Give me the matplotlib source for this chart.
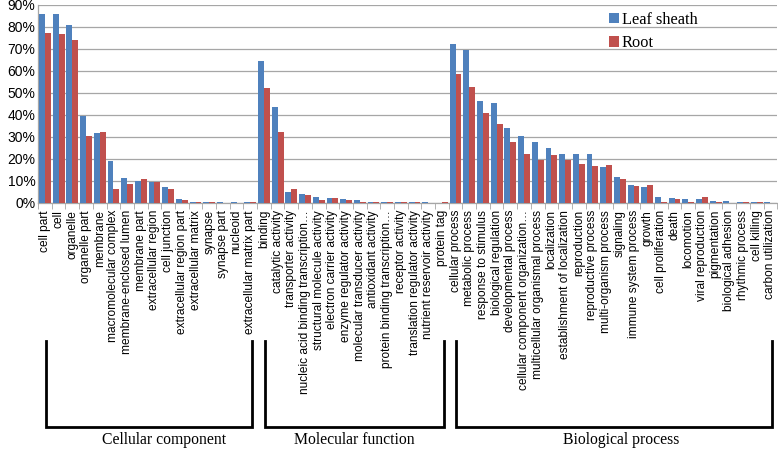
import matplotlib
matplotlib.use('Agg')
import matplotlib.pyplot as plt
import matplotlib.transforms as mtransforms
import numpy as np

# GO categories, grouped
cc_terms = ['cell part', 'cell', 'organelle', 'organelle part', 'membrane',
            'macromolecular complex', 'membrane-enclosed lumen', 'membrane part',
            'extracellular region', 'cell junction', 'extracellular region part',
            'extracellular matrix', 'synapse', 'synapse part', 'nucleoid',
            'extracellular matrix part']
mf_terms = ['binding', 'catalytic activity', 'transporter activity',
            'nucleic acid binding transcription…', 'structural molecule activity',
            'electron carrier activity', 'enzyme regulator activity',
            'molecular transducer activity', 'antioxidant activity',
            'protein binding transcription…', 'receptor activity',
            'translation regulator activity', 'nutrient reservoir activity',
            'protein tag']
bp_terms = ['cellular process', 'metabolic process', 'response to stimulus',
            'biological regulation', 'developmental process',
            'cellular component organization…', 'multicellular organismal process',
            'localization', 'establishment of localization', 'reproduction',
            'reproductive process', 'multi-organism process', 'signaling',
            'immune system process', 'growth', 'cell proliferation', 'death',
            'locomotion', 'viral reproduction', 'pigmentation',
            'biological adhesion', 'rhythmic process', 'cell killing',
            'carbon utilization']

# percentages
cc_leaf = [85.8, 85.8, 81.1, 39.7, 31.7, 18.9, 11.5, 10.2, 9.5, 7.4, 1.7,
           0.5, 0.5, 0.5, 0.4, 0.5]
cc_root = [77.4, 76.7, 73.9, 30.5, 32.1, 6.4, 8.6, 10.8, 9.5, 6.4, 1.2,
           0.5, 0.5, 0.1, 0.1, 0.5]
mf_leaf = [64.7, 43.8, 5.0, 4.2, 2.9, 2.3, 2.0, 1.2, 0.6, 0.6, 0.3, 0.3, 0.3, 0.0]
mf_root = [52.1, 32.1, 6.4, 3.6, 1.5, 2.3, 1.2, 0.5, 0.6, 0.3, 0.3, 0.3, 0.0, 0.3]
bp_leaf = [72.3, 69.7, 46.5, 45.5, 34.1, 30.6, 27.9, 24.8, 22.1, 22.1, 22.1,
           16.2, 12.0, 8.0, 7.4, 2.9, 2.3, 2.0, 1.7, 0.9, 0.9, 0.6, 0.5, 0.5]
bp_root = [58.5, 52.7, 41.1, 35.8, 27.6, 22.1, 19.7, 21.8, 19.7, 17.7, 17.0,
           17.4, 10.8, 7.7, 8.2, 0.3, 1.7, 0.5, 2.6, 0.5, 0.0, 0.5, 0.5, 0.0]

groups = ['Cellular component', 'Molecular function', 'Biological process']

terms = cc_terms + mf_terms + bp_terms
leaf = cc_leaf + mf_leaf + bp_leaf
root = cc_root + mf_root + bp_root
x = np.arange(len(terms))

fig = plt.figure(figsize=(7.78, 4.5), dpi=100)
ax = fig.add_axes([0.049, 0.549, 0.950, 0.440])

w = 0.43
ax.bar(x - w / 2, leaf, w, color='#4F81BD', label='Leaf sheath', zorder=3)
ax.bar(x + w / 2, root, w, color='#C0504D', label='Root', zorder=3)

ax.set_xlim(-0.5, len(terms) - 0.5)
ax.set_ylim(0, 90)
ax.set_yticks(range(0, 91, 10))
ax.set_yticklabels([f'{v}%' for v in range(0, 91, 10)],
                   fontsize=10, family='Liberation Sans')
ax.yaxis.grid(True, color='#A6A6A6', linewidth=0.9, zorder=0)
ax.tick_params(axis='y', length=0, pad=2)

ax.set_xticks(x)
ax.set_xticklabels(terms, rotation=90, fontsize=8.6, family='Liberation Sans',
                   va='top', ha='center')
ax.set_xticks(np.arange(-0.5, len(terms), 1), minor=True)
ax.tick_params(axis='x', which='major', length=0, pad=5)
ax.tick_params(axis='x', which='minor', length=4, color='#A6A6A6')

for s in ['top', 'right']:
    ax.spines[s].set_visible(False)
for s in ['left', 'bottom']:
    ax.spines[s].set_color('#A6A6A6')
    ax.spines[s].set_linewidth(0.9)

leg = ax.legend(loc='upper left', bbox_to_anchor=(0.752, 1.04), frameon=False,
                prop={'family': 'Liberation Serif', 'size': 11.8},
                handlelength=0.6, handleheight=0.6, handletextpad=0.2,
                labelspacing=0.45)

# group brackets below the labels
trans = mtransforms.blended_transform_factory(ax.transData, fig.transFigure)
y_top = 1 - 341 / 450
y_bot = 1 - 427 / 450
y_txt = 1 - 440 / 450
starts = [0, len(cc_terms), len(cc_terms) + len(mf_terms)]
ends = [len(cc_terms) - 1, len(cc_terms) + len(mf_terms) - 1, len(terms) - 1]
text_shift = [1.1, 0.0, 0.5]
for name, a, b, dx in zip(groups, starts, ends, text_shift):
    x0, x1 = a + 0.05, b + 0.15
    ax.plot([x0, x0, x1, x1], [y_top, y_bot, y_bot, y_top], color='black',
            linewidth=2, transform=trans, clip_on=False, solid_joinstyle='miter')
    ax.text((x0 + x1) / 2 + dx, y_txt, name, transform=trans, ha='center',
            va='center', fontsize=11.3, family='Liberation Serif')

fig.savefig('out.png', dpi=100)
